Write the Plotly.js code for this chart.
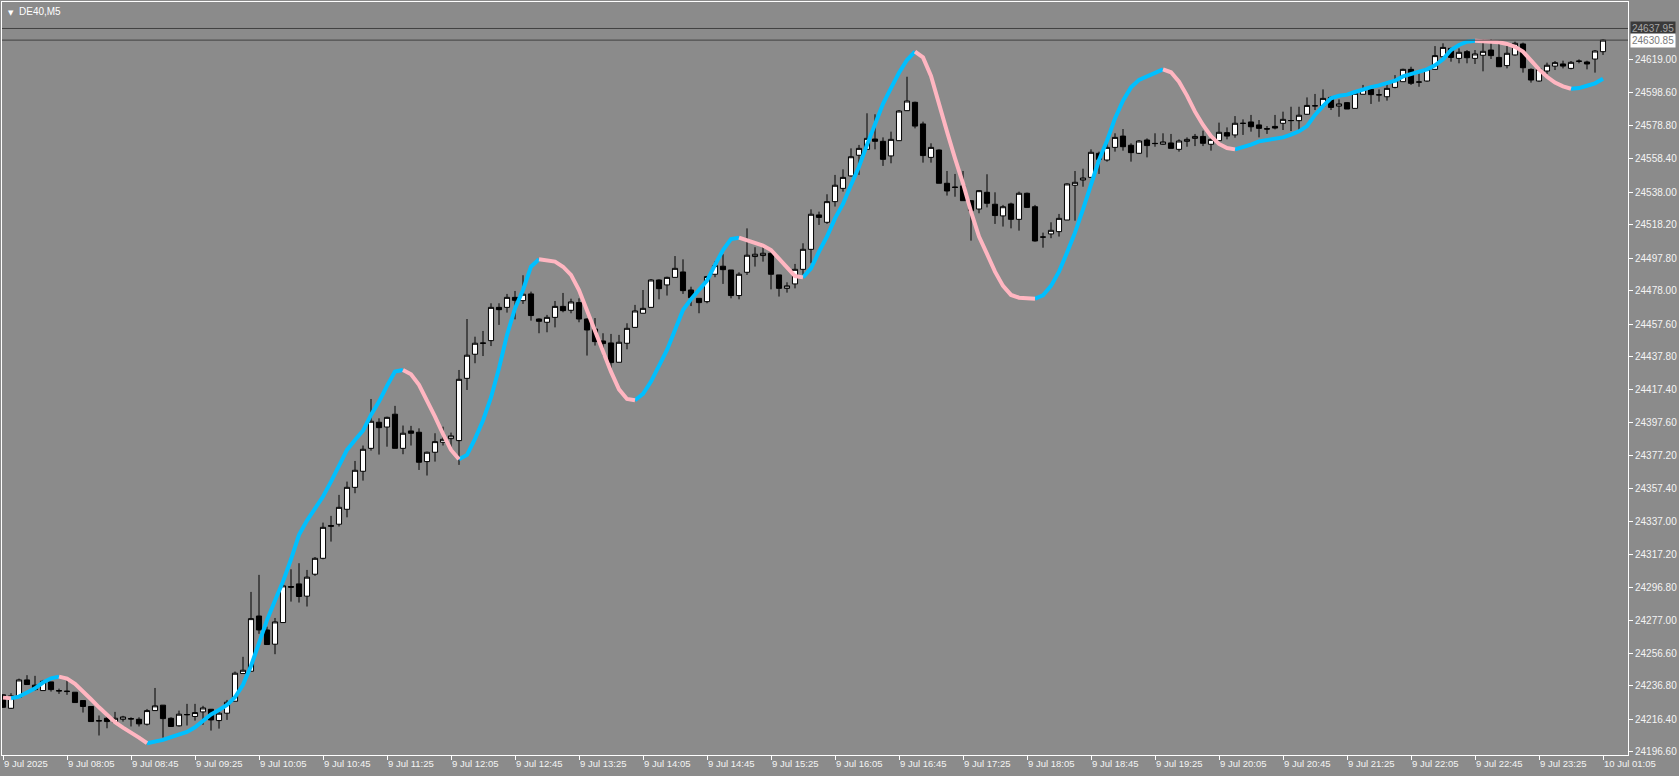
<!DOCTYPE html>
<html><head><meta charset="utf-8">
<script src="https://cdn.plot.ly/plotly-3.0.1.min.js"></script>
<style>html,body{margin:0;padding:0;background:#8b8b8b;overflow:hidden}#chart{width:1679px;height:776px}</style>
</head><body><div id="chart"></div>
<script>
const symbolLabel = 'DE40,M5';
const bidPrice = 24630.85;
const askPrice = 24637.95;

const openP = [24231.4,24223.2,24229.9,24240.5,24237.3,24234.0,24239.3,24234.0,24233.4,24233.0,
24227.9,24224.3,24215.7,24217.1,24214.5,24216.5,24216.9,24216.5,24213.5,24221.8,
24225.1,24217.1,24212.5,24219.2,24218.2,24221.0,24222.6,24215.7,24220.2,24227.5,
24244.4,24245.8,24279.5,24271.0,24262.3,24275.5,24297.5,24299.1,24291.6,24305.0,
24314.7,24334.7,24335.5,24344.6,24358.0,24367.8,24381.8,24397.7,24394.8,24402.6,
24381.8,24392.4,24391.6,24373.7,24379.4,24385.5,24387.7,24386.5,24424.5,24439.2,
24446.1,24447.5,24467.8,24467.8,24473.9,24471.9,24476.0,24460.7,24458.7,24461.7,
24468.4,24466.0,24470.7,24460.7,24454.6,24447.3,24446.1,24434.3,24445.9,24455.6,
24464.2,24467.8,24484.5,24481.5,24486.1,24489.4,24478.4,24473.3,24471.3,24488.0,
24492.9,24490.6,24475.0,24489.2,24498.8,24499.4,24500.8,24487.6,24479.4,24482.1,
24491.0,24503.2,24524.2,24519.7,24532.3,24540.4,24548.0,24560.6,24564.2,24570.5,
24569.1,24560.2,24569.5,24587.8,24592.9,24579.7,24559.3,24563.8,24543.5,24541.2,
24541.9,24532.9,24527.8,24538.0,24530.7,24523.6,24530.9,24521.5,24537.4,24529.2,
24510.7,24512.6,24514.0,24521.1,24542.3,24545.5,24547.1,24561.8,24557.7,24565.4,
24572.3,24566.7,24561.8,24569.9,24567.7,24567.3,24568.1,24564.2,24569.1,24570.9,
24572.1,24567.3,24569.5,24574.4,24573.0,24580.0,24580.9,24579.1,24576.8,24578.2,
24580.1,24581.7,24581.7,24585.6,24590.7,24590.8,24595.9,24590.6,24592.7,24589.2,
24597.8,24600.8,24597.4,24596.3,24602.0,24605.5,24613.0,24605.2,24605.9,24613.0,
24620.7,24625.8,24619.7,24623.8,24619.7,24621.6,24624.8,24620.3,24615.3,24621.8,
24628.5,24613.0,24605.9,24612.0,24615.0,24616.3,24613.6,24617.9,24617.5,24619.3,
24623.8];
const highP = [24231.8,24232.4,24241.3,24243.4,24243.0,24240.5,24239.3,24235.2,24240.1,24233.0,
24227.9,24224.3,24218.8,24219.2,24221.0,24218.6,24217.7,24217.7,24222.8,24235.6,
24225.1,24217.7,24221.8,24225.9,24225.9,24224.7,24222.6,24222.6,24228.3,24245.6,
24254.6,24294.2,24304.6,24273.0,24278.3,24299.1,24308.0,24311.7,24307.6,24315.5,
24336.5,24340.6,24353.4,24361.5,24374.1,24383.5,24411.9,24400.1,24401.1,24407.7,
24395.7,24395.5,24394.0,24379.8,24391.0,24395.0,24391.4,24429.6,24460.7,24449.9,
24453.4,24470.3,24470.3,24476.0,24477.8,24487.4,24477.4,24461.1,24463.2,24471.7,
24476.6,24473.1,24473.3,24461.1,24461.3,24452.0,24451.6,24451.0,24458.1,24469.3,
24478.4,24485.1,24484.9,24486.5,24499.1,24497.1,24480.4,24473.3,24487.0,24495.9,
24500.2,24490.6,24489.2,24516.0,24504.5,24506.1,24501.2,24487.6,24483.1,24494.3,
24506.9,24527.6,24526.2,24536.8,24548.6,24552.0,24564.8,24566.9,24586.2,24585.6,
24571.5,24575.0,24588.2,24608.5,24593.3,24581.1,24567.9,24564.2,24551.0,24549.2,
24551.0,24532.9,24539.4,24549.0,24538.0,24530.3,24531.7,24538.4,24537.8,24530.3,
24513.4,24519.7,24524.8,24543.5,24551.0,24552.4,24564.2,24562.8,24571.3,24574.0,
24576.6,24567.9,24569.9,24570.9,24574.0,24574.0,24573.6,24570.3,24571.5,24573.6,
24575.6,24572.3,24580.5,24577.6,24584.5,24582.5,24585.2,24582.1,24578.4,24585.2,
24587.2,24590.2,24590.2,24595.9,24598.0,24600.8,24596.7,24594.7,24593.1,24598.8,
24603.5,24601.4,24600.8,24604.5,24609.5,24613.4,24614.6,24610.6,24613.2,24627.2,
24628.9,24626.2,24625.8,24624.8,24624.8,24631.3,24631.3,24630.9,24628.9,24629.9,
24629.3,24613.6,24613.6,24617.1,24618.1,24618.3,24618.1,24619.1,24618.3,24624.8,
24631.3];
const lowP = [24223.4,24222.8,24229.9,24237.7,24234.0,24234.0,24233.4,24232.0,24231.4,24226.7,
24220.6,24215.1,24206.6,24211.0,24213.7,24215.1,24212.1,24212.1,24212.7,24221.8,
24205.3,24212.1,24212.1,24212.7,24215.7,24213.1,24209.6,24210.8,24216.1,24227.5,
24244.4,24245.8,24268.6,24262.1,24256.2,24275.5,24288.3,24287.7,24285.3,24304.0,
24314.1,24324.9,24334.1,24339.7,24354.4,24362.1,24380.4,24378.0,24382.8,24381.8,
24378.2,24383.5,24368.6,24365.2,24373.7,24383.5,24382.2,24371.7,24417.4,24433.7,
24438.1,24444.2,24457.1,24464.6,24460.5,24469.9,24459.7,24452.0,24452.6,24455.6,
24464.8,24464.2,24458.7,24438.4,24444.5,24438.4,24430.6,24434.3,24442.2,24455.6,
24464.2,24467.8,24472.7,24475.0,24486.1,24476.0,24468.6,24464.2,24470.3,24486.2,
24482.1,24473.3,24472.7,24487.6,24492.7,24495.7,24478.8,24474.4,24476.8,24479.4,
24487.6,24494.7,24518.1,24518.7,24529.3,24538.4,24547.5,24548.6,24563.8,24564.2,
24554.1,24555.7,24569.5,24587.8,24577.0,24556.1,24556.1,24543.5,24536.0,24535.3,
24532.9,24508.5,24525.2,24528.8,24518.7,24517.1,24516.0,24514.6,24528.8,24507.9,
24504.2,24510.0,24511.0,24521.1,24520.7,24541.4,24547.1,24549.2,24556.7,24562.8,
24563.4,24556.7,24561.4,24559.3,24565.8,24566.9,24564.8,24562.8,24565.8,24566.2,
24566.2,24563.4,24569.5,24570.3,24571.3,24573.0,24575.0,24571.5,24573.6,24576.4,
24576.0,24575.4,24576.0,24585.2,24588.2,24590.2,24588.2,24584.1,24588.8,24589.2,
24597.8,24591.9,24593.3,24593.9,24601.4,24605.5,24603.5,24602.4,24605.5,24612.6,
24620.3,24617.7,24616.7,24616.7,24616.3,24611.8,24619.3,24614.6,24613.6,24621.4,
24611.0,24604.9,24605.5,24610.2,24612.6,24613.6,24613.0,24616.7,24613.0,24611.0,
24621.8];
const closeP = [24223.8,24230.8,24240.5,24237.7,24234.6,24239.7,24234.6,24233.8,24233.6,24226.7,
24224.3,24215.1,24215.5,24215.1,24217.1,24217.9,24216.7,24213.7,24221.8,24224.7,
24216.9,24212.1,24219.6,24219.4,24220.6,24223.4,24216.1,24220.2,24226.9,24244.6,
24246.4,24277.9,24271.0,24262.1,24275.9,24297.9,24297.1,24291.4,24303.2,24314.7,
24333.6,24334.3,24345.8,24358.0,24368.4,24381.2,24398.3,24394.4,24400.7,24381.8,
24391.0,24391.0,24373.3,24379.4,24385.9,24387.3,24389.4,24423.9,24438.6,24445.9,
24445.9,24467.8,24466.4,24473.9,24472.1,24475.8,24462.8,24459.3,24461.7,24468.4,
24465.8,24471.1,24460.7,24454.0,24446.9,24445.7,24434.1,24446.5,24455.0,24465.6,
24467.2,24484.5,24479.2,24486.1,24491.6,24478.0,24473.7,24470.7,24486.6,24493.3,
24490.8,24475.0,24488.0,24499.6,24500.2,24500.8,24488.0,24479.4,24480.9,24491.0,
24503.2,24524.6,24522.7,24532.3,24542.3,24547.1,24559.7,24564.8,24570.9,24569.1,
24558.1,24570.3,24587.6,24593.7,24578.4,24560.4,24565.4,24543.5,24538.8,24541.0,
24532.9,24526.8,24539.0,24531.3,24523.8,24529.2,24521.5,24537.4,24528.8,24508.3,
24510.7,24514.8,24522.1,24543.1,24544.1,24546.7,24562.4,24558.1,24565.4,24571.5,
24565.8,24562.2,24569.3,24566.5,24567.8,24568.7,24564.8,24569.3,24570.3,24572.1,
24567.9,24570.3,24574.6,24572.3,24580.1,24580.1,24578.0,24577.0,24576.6,24577.2,
24582.5,24581.8,24585.0,24591.0,24590.8,24595.3,24589.8,24591.9,24588.8,24598.4,
24600.8,24597.6,24597.5,24601.4,24606.1,24613.0,24604.5,24605.3,24613.2,24621.4,
24626.4,24620.3,24623.4,24620.1,24622.4,24624.0,24621.4,24614.6,24622.8,24628.9,
24614.0,24606.5,24613.2,24615.5,24617.1,24615.0,24617.3,24618.0,24616.3,24624.2,
24630.85];
const trendLine = [24229.7,24229.3,24230.3,24232.8,24235.4,24238.9,24241.5,24242.5,24241.3,24238.1,
24233.8,24228.7,24223.8,24219.0,24214.7,24211.4,24208.6,24205.3,24201.9,24202.9,
24203.9,24205.6,24207.2,24208.8,24211.6,24215.7,24219.4,24222.2,24225.3,24229.9,
24237.5,24249.0,24263.0,24277.0,24289.0,24300.5,24314.1,24329.0,24337.7,24344.6,
24352.4,24361.5,24370.7,24380.8,24386.9,24392.6,24402.2,24410.3,24419.9,24428.6,
24429.6,24427.0,24420.5,24411.3,24401.1,24390.6,24380.8,24375.1,24377.8,24387.6,
24398.8,24412.8,24430.6,24451.0,24467.2,24478.4,24492.6,24497.1,24496.5,24495.7,
24492.6,24487.6,24478.4,24465.8,24453.0,24440.8,24428.6,24417.8,24411.9,24411.1,
24415.0,24422.5,24431.6,24441.8,24454.0,24466.2,24472.8,24478.4,24484.1,24493.7,
24502.8,24509.5,24510.3,24508.5,24506.7,24505.5,24502.8,24497.7,24492.2,24486.9,
24486.1,24491.6,24501.8,24511.0,24522.1,24530.9,24542.5,24553.6,24566.9,24580.1,
24592.0,24601.6,24610.9,24618.7,24623.8,24620.3,24609.0,24591.3,24575.0,24558.7,
24543.5,24526.2,24511.0,24500.4,24489.6,24480.9,24475.4,24473.7,24473.3,24473.1,
24475.2,24480.9,24489.6,24501.2,24513.4,24527.6,24543.1,24557.7,24569.5,24583.1,
24593.9,24602.0,24606.5,24608.5,24611.1,24613.0,24611.2,24605.5,24597.0,24587.2,
24579.1,24572.3,24567.5,24565.0,24564.2,24565.4,24567.1,24569.1,24570.1,24570.5,
24571.5,24573.2,24575.2,24578.4,24585.2,24590.6,24595.3,24596.9,24597.6,24599.2,
24600.8,24602.2,24603.2,24604.5,24606.1,24608.7,24610.3,24611.5,24613.0,24615.5,
24619.1,24624.8,24627.9,24629.9,24630.5,24630.3,24630.1,24629.5,24628.5,24626.8,
24623.8,24618.3,24613.0,24608.5,24604.9,24602.6,24601.2,24601.6,24603.0,24604.5,
24607.3];

const xTickBars = [0,8,16,24,32,40,48,56,64,72,80,88,96,104,112,120,128,136,144,152,160,168,176,184,192,200];
const xTickLabels = ['9 Jul 2025','9 Jul 08:05','9 Jul 08:45','9 Jul 09:25','9 Jul 10:05','9 Jul 10:45',
'9 Jul 11:25','9 Jul 12:05','9 Jul 12:45','9 Jul 13:25','9 Jul 14:05','9 Jul 14:45','9 Jul 15:25',
'9 Jul 16:05','9 Jul 16:45','9 Jul 17:25','9 Jul 18:05','9 Jul 18:45','9 Jul 19:25','9 Jul 20:05',
'9 Jul 20:45','9 Jul 21:25','9 Jul 22:05','9 Jul 22:45','9 Jul 23:25','10 Jul 01:05'];
const yTickValues = [24619.00,24598.60,24578.80,24558.40,24538.00,24518.20,24497.80,24478.00,24457.60,
24437.80,24417.40,24397.60,24377.20,24357.40,24337.00,24317.20,24296.80,24277.00,24256.60,24236.80,
24216.40,24196.60];

const bars = openP.map((_, i) => i);

// split the indicator into rising / falling runs
function runs(up) {
  const xs = [], ys = [];
  let i = 1;
  while (i < trendLine.length) {
    const isUp = trendLine[i] >= trendLine[i - 1];
    let j = i;
    while (j + 1 < trendLine.length && (trendLine[j + 1] >= trendLine[j]) === isUp) j++;
    if (isUp === up) {
      for (let k = i - 1; k <= j; k++) { xs.push(bars[k]); ys.push(trendLine[k]); }
      xs.push(null); ys.push(null);
    }
    i = j + 1;
  }
  return {xs, ys};
}
const upRun = runs(true), dnRun = runs(false);

const txtColor = '#f4f4f4';
const font = 'Liberation Sans, Arial, sans-serif';

const traces = [
  {type:'candlestick', x:bars, open:openP, high:highP, low:lowP, close:closeP,
   increasing:{line:{color:'#000000', width:1}, fillcolor:'#ffffff'},
   decreasing:{line:{color:'#000000', width:1}, fillcolor:'#000000'},
   whiskerwidth:0, hoverinfo:'skip', showlegend:false},
  {type:'scatter', mode:'lines', x:upRun.xs, y:upRun.ys, connectgaps:false,
   line:{color:'#00BFFF', width:4}, hoverinfo:'skip', showlegend:false},
  {type:'scatter', mode:'lines', x:dnRun.xs, y:dnRun.ys, connectgaps:false,
   line:{color:'#FFB6C1', width:4}, hoverinfo:'skip', showlegend:false}
];

const layout = {
  width:1679, height:776,
  margin:{l:2, r:51, t:2, b:21},
  paper_bgcolor:'#8b8b8b', plot_bgcolor:'#8b8b8b',
  showlegend:false, hovermode:false,
  boxgap:0.2, boxgroupgap:0.2,
  xaxis:{range:[-0.125, 203.125], tickmode:'array', tickvals:xTickBars, ticktext:xTickLabels,
    ticks:'outside', ticklen:4, tickcolor:'#ffffff', tickwidth:1,
    ticklabelposition:'outside right',
    tickfont:{family:font, size:9.5, color:txtColor},
    showgrid:false, zeroline:false, showline:true, linecolor:'#ffffff', linewidth:1, mirror:true,
    rangeslider:{visible:false}, fixedrange:true},
  yaxis:{side:'right', range:[24194.7, 24654.1], tickmode:'array', tickvals:yTickValues,
    ticktext:yTickValues.map(v => v.toFixed(2)),
    ticks:'outside', ticklen:4, tickcolor:'#ffffff', tickwidth:1,
    tickfont:{family:font, size:10, color:txtColor},
    showgrid:false, zeroline:false, showline:true, linecolor:'#ffffff', linewidth:1, mirror:true,
    fixedrange:true},
  shapes:[
    {type:'line', xref:'paper', x0:0, x1:1, yref:'y', y0:askPrice, y1:askPrice, line:{color:'#404040', width:1}},
    {type:'line', xref:'paper', x0:0, x1:1, yref:'y', y0:bidPrice, y1:bidPrice, line:{color:'#404040', width:1}}
  ],
  annotations:[
    {xref:'paper', x:1, xanchor:'left', xshift:2, yref:'y', y:askPrice, yanchor:'middle',
     text:askPrice.toFixed(2), showarrow:false, bgcolor:'#3a3a3a', borderpad:1,
     font:{family:font, size:10, color:'#a8a8a8'}},
    {xref:'paper', x:1, xanchor:'left', xshift:2, yref:'y', y:bidPrice, yanchor:'middle',
     text:bidPrice.toFixed(2), showarrow:false, bgcolor:'#ffffff', borderpad:1,
     font:{family:font, size:10, color:'#7a7a7a'}},
    {xref:'paper', x:0, xanchor:'left', xshift:4, yref:'paper', y:1, yanchor:'top', yshift:-5,
     text:'▼', showarrow:false, font:{family:'DejaVu Sans', size:7, color:'#ffffff'}},
    {xref:'paper', x:0, xanchor:'left', xshift:15, yref:'paper', y:1, yanchor:'top', yshift:-2,
     text:symbolLabel, showarrow:false, font:{family:font, size:10, color:'#ffffff'}}
  ]
};

Plotly.newPlot('chart', traces, layout, {staticPlot:true, displayModeBar:false});
</script>
</body></html>
